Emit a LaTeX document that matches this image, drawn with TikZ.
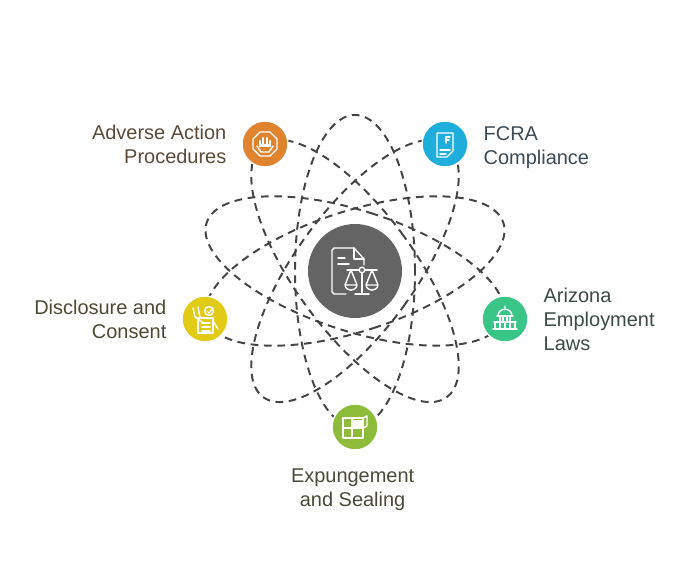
\documentclass[tikz,border=0pt]{standalone}
\usepackage{xcolor}
\usepackage{fontspec}
\setmainfont{Liberation Sans}
\usepackage{tikz}
\usetikzlibrary{positioning}
\definecolor{hubgray}{HTML}{646464}
\definecolor{orbitgray}{HTML}{444444}
\definecolor{adverseorange}{HTML}{E0832F}
\definecolor{fcrablue}{HTML}{1FAEDC}
\definecolor{arizonagreen}{HTML}{38C585}
\definecolor{expungegreen}{HTML}{8DBB3A}
\definecolor{consentyellow}{HTML}{E2CB17}
\definecolor{adversetext}{HTML}{5A4A3A}
\definecolor{fcratext}{HTML}{3C4A55}
\definecolor{arizonatext}{HTML}{3C4A46}
\definecolor{expungetext}{HTML}{4A4A3A}
\definecolor{consenttext}{HTML}{4C4A34}
\tikzstyle{hub}   = [circle, minimum size=2.35cm, inner sep=0pt, fill=hubgray]
\tikzstyle{topic} = [circle, minimum size=1.15cm, inner sep=0pt, draw=white, line width=1pt]
\tikzstyle{orbit} = [draw=orbitgray, line width=1.4pt, dash pattern=on 5.5pt off 4pt]
\tikzstyle{label} = [font=\fontsize{14.2pt}{17pt}\selectfont]
\tikzstyle{glyph} = [draw=white, line width=1pt, line join=round, line cap=round, x=0.025cm, y=-0.025cm]
\begin{document}
\begin{tikzpicture}[node distance=0.25cm]
    \useasboundingbox (0,0) rectangle (17.15,14);
    \node (centre) [hub] at (8.875,7.225) {};

    % the five orbits
    \draw [orbit] (centre) ellipse [x radius=1.5cm, y radius=3.9cm];
    \draw [orbit, rotate around={36:(centre)}] (centre) ellipse [x radius=1.5cm, y radius=3.9cm];
    \draw [orbit, rotate around={-36:(centre)}] (centre) ellipse [x radius=1.5cm, y radius=3.9cm];
    \draw [orbit, rotate around={72:(centre)}] (centre) ellipse [x radius=1.5cm, y radius=3.9cm];
    \draw [orbit, rotate around={-72:(centre)}] (centre) ellipse [x radius=1.5cm, y radius=3.9cm];

    \node (adverse) [topic, fill=adverseorange] at (6.625,10.4) {};
    \node (fcra)    [topic, fill=fcrablue] at (11.125,10.4) {};
    \node (arizona) [topic, fill=arizonagreen] at (12.625,6.025) {};
    \node (expunge) [topic, fill=expungegreen] at (8.875,3.325) {};
    \node (consent) [topic, fill=consentyellow] at (5.125,6.025) {};

    \node (adverselabel) [label, left=of adverse, align=right, text=adversetext] {Adverse Action\\Procedures};
    \node (fcralabel)    [label, right=of fcra, yshift=-0.1cm, align=left, text=fcratext] {FCRA\\Compliance};
    \node (arizonalabel) [label, right=of arizona, align=left, text=arizonatext] {Arizona\\Employment\\Laws};
    \node (expungelabel) [label, below=0.325cm of expunge, xshift=-0.06cm, align=center, text=expungetext] {Expungement\\and Sealing};
    \node (consentlabel) [label, left=of consent, align=right, text=consenttext] {Disclosure and\\Consent};

    % icons
    \begin{scope}[shift={(centre)}]
        \draw [glyph] (-1,-23) -- (-21,-23) -- (-23,-21) -- (-23,21) -- (-21,23) -- (-9,23);
        \draw [glyph] (-1,-23) -- (9,-12) -- (9,-6);
        \draw [glyph] (-1,-23) -- (-1,-12) -- (9,-12);
        \draw [glyph] (-17,-13) -- (-10,-13) (-17,-7) -- (-6,-7);
        \draw [glyph] (-8,-1) -- (4,-1) (10,-1) -- (22,-1);
        \draw [glyph] (7,-1) circle [radius=0.07cm];
        \draw [glyph] (7,2) -- (7,22) (0,23) -- (14,23);
        \draw [glyph] (-4,-1) -- (-10,14) -- (2,14) -- cycle (-10,14) .. controls (-9,21) and (1,21) .. (2,14);
        \draw [glyph] (17,-1) -- (11,14) -- (23,14) -- cycle (11,14) .. controls (12,21) and (22,21) .. (23,14);
    \end{scope}
    \begin{scope}[shift={(adverse)}]
        \draw [glyph] (-5,-12) -- (5,-12) -- (12,-5) -- (12,5) -- (5,12) -- (-5,12) -- (-12,5) -- (-12,-5) -- cycle;
        \draw [glyph, line width=1.8pt] (-5,2) -- (-5,-3) (-2,0) -- (-2,-6) (2,0) -- (2,-6) (5,2) -- (5,-3);
        \fill [white, x=0.025cm, y=-0.025cm] (-6,0) rectangle (6,3);
        \draw [glyph] (-8,2) -- (-4,8) -- (4,8) -- (8,2);
    \end{scope}
    \begin{scope}[shift={(fcra)}]
        \draw [glyph] (-8,-11) -- (8,-11) -- (8,7) -- (2,13) -- (-8,13) -- cycle;
        \draw [glyph] (-5,6) -- (5,6) (-5,10) -- (1,10);
        \draw [glyph] (1,-1) -- (1,-7) -- (5,-7) (1,-4) -- (4,-4);
    \end{scope}
    \begin{scope}[shift={(arizona)}]
        \draw [glyph] (-7,-3) .. controls (-7,-12) and (7,-12) .. (7,-3) (0,-10) -- (0,-13);
        \draw [glyph] (-8,-3) -- (8,-3);
        \draw [glyph] (-5,-3) -- (-5,2) (-2,-3) -- (-2,2) (2,-3) -- (2,2) (5,-3) -- (5,2);
        \draw [glyph] (-11,3) -- (11,3) (-10,3) -- (-10,9) (-5,3) -- (-5,9) (0,3) -- (0,9) (5,3) -- (5,9) (10,3) -- (10,9);
        \draw [glyph] (-12,10) -- (12,10);
    \end{scope}
    \begin{scope}[shift={(expunge)}]
        \draw [glyph, line width=1.3pt] (-12,-9) -- (8,-9) -- (8,11) -- (-12,11) -- cycle;
        \draw [glyph, line width=1.3pt] (-12,1) -- (8,1) (-3,-9) -- (-3,11);
        \draw [glyph] (8,-9) -- (12,-11) -- (12,-1) -- (8,1);
        \fill [white, x=0.025cm, y=-0.025cm] (-2,-7) rectangle (7,0);
    \end{scope}
    \begin{scope}[shift={(consent)}]
        \draw [glyph] (-7,-1) -- (8,-1) -- (8,14) -- (-7,14) -- cycle;
        \draw [glyph] (-3,4) -- (5,4) (-3,8) -- (5,8) (-3,12) -- (5,12);
        \draw [glyph] (-12,-11) -- (-10,-2) -- (-3,3) (-7,-12) -- (-5,-2);
        \draw [glyph] (4,-8) circle [radius=0.11cm];
        \draw [glyph] (2,-8) -- (4,-6) -- (8,-11);
        \draw [glyph] (8,2) -- (13,10);
    \end{scope}
\end{tikzpicture}
\end{document}
